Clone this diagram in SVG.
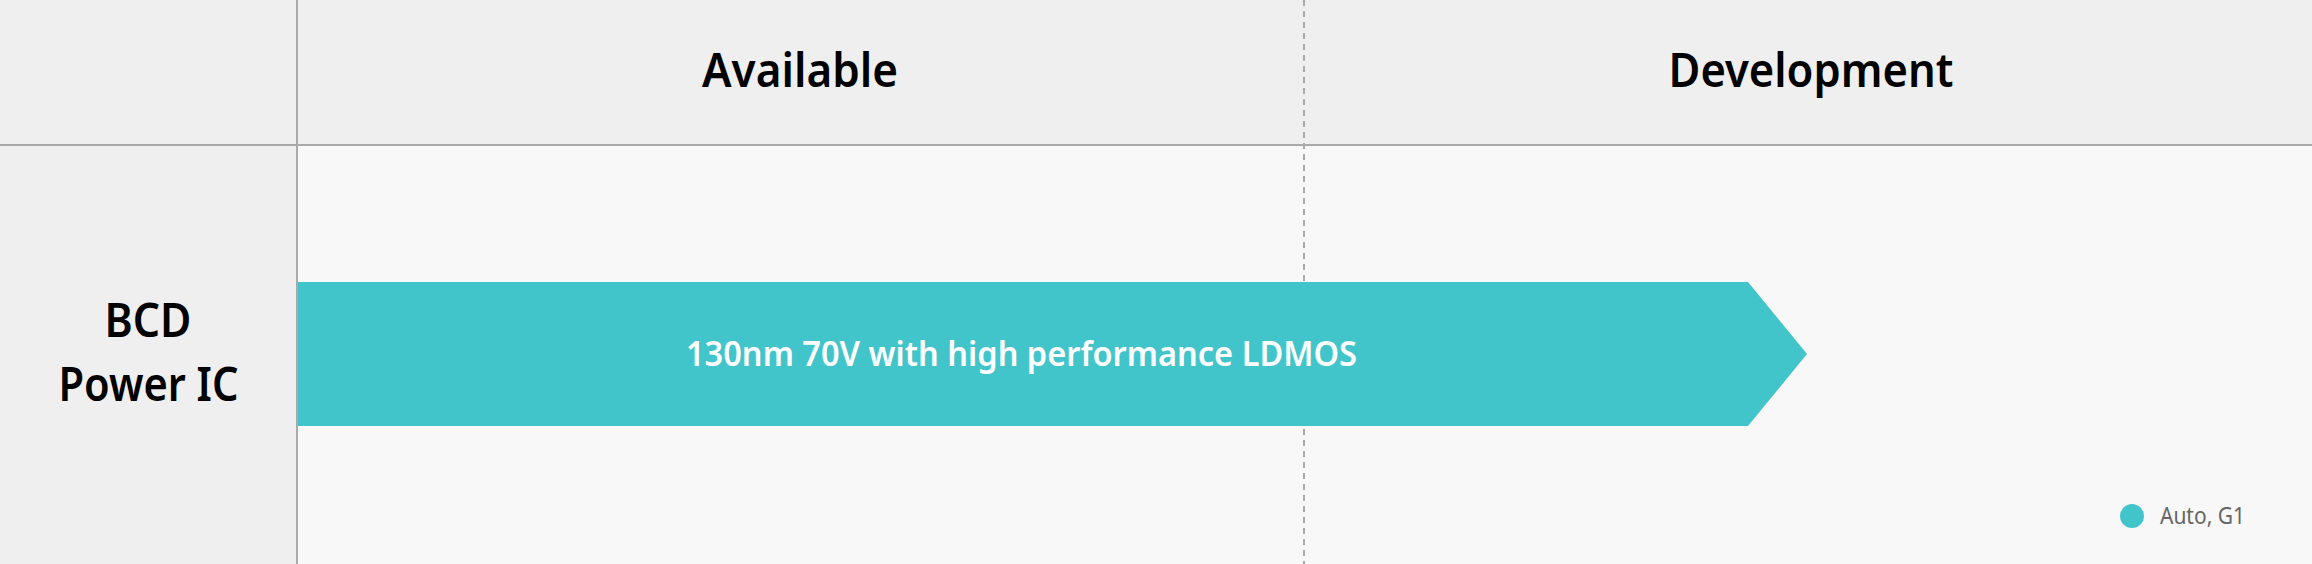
<svg xmlns="http://www.w3.org/2000/svg" width="2312" height="564" viewBox="0 0 2312 564">
<style>
.hdr{font-family:"Noto Sans","Liberation Sans",sans-serif;font-weight:600;font-size:46px;fill:#000;text-anchor:middle}
.row{font-family:"Noto Sans","Liberation Sans",sans-serif;font-weight:600;font-size:46px;fill:#000;text-anchor:middle}
.bar{font-family:"Noto Sans","Liberation Sans",sans-serif;font-weight:600;font-size:35px;fill:#fff}
.leg{font-family:"Noto Sans","Liberation Sans",sans-serif;font-weight:400;font-size:24px;fill:#666}
.grid{stroke:#aaa;stroke-width:2;fill:none}
</style>
<g id="background">
<rect x="0" y="0" width="2312" height="564" fill="#f8f8f8"/>
<rect x="0" y="0" width="2312" height="145" fill="#efefef"/>
<rect x="0" y="145" width="297" height="419" fill="#efefef"/>
</g>
<g id="connectors">
<line class="grid" x1="0" y1="145" x2="2312" y2="145"/>
<line class="grid" x1="297" y1="0" x2="297" y2="564"/>
<line class="grid" x1="1304" y1="0" x2="1304" y2="564" stroke-dasharray="6,5"/>
</g>
<g id="header-available"><text class="hdr" x="800" y="87" textLength="196" lengthAdjust="spacingAndGlyphs">Available</text></g>
<g id="header-development"><text class="hdr" x="1811" y="87" textLength="285" lengthAdjust="spacingAndGlyphs">Development</text></g>
<g id="row-bcd">
<text class="row" x="148" y="337" textLength="87" lengthAdjust="spacingAndGlyphs">BCD</text>
<text class="row" x="148.5" y="401" textLength="180" lengthAdjust="spacingAndGlyphs">Power IC</text>
</g>
<g id="bar-130nm">
<polygon points="298,282 1748,282 1807,354 1748,426 298,426" fill="#42c5ca"/>
<text class="bar" x="686" y="366" textLength="671" lengthAdjust="spacingAndGlyphs">130nm 70V with high performance LDMOS</text>
</g>
<g id="legend">
<circle cx="2132" cy="516" r="12" fill="#42c5ca"/>
<text class="leg" x="2160" y="524" textLength="85" lengthAdjust="spacingAndGlyphs">Auto, G1</text>
</g>
</svg>
